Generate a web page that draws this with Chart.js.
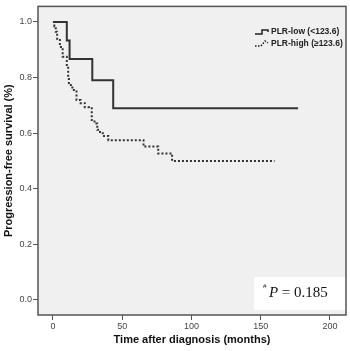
<!DOCTYPE html>
<html>
<head>
<meta charset="utf-8">
<script src="https://cdn.jsdelivr.net/npm/chart.js@4/dist/chart.umd.min.js"></script>
<style>
  body { margin: 0; background: #fff; }
  #wrap { width: 350px; height: 351px; }
</style>
</head>
<body>
<div id="wrap"><canvas id="myChart" width="350" height="351"></canvas></div>
<script>
// PLR-low group (KM steps: time in months, survival after event)
let lowTimes = [0, 10, 12, 28.4, 43.5, 177];
let lowSurv  = [1.0, 0.933, 0.867, 0.79, 0.69, 0.69];

// PLR-high group
let highTimes = [0, 1, 2, 3, 5, 7, 10, 11, 11.5, 14, 17, 20, 23, 26, 28, 30, 32, 34, 36, 40, 65.4, 76, 86, 160];
let highSurv  = [1.0, 0.985, 0.965, 0.935, 0.91, 0.875, 0.845, 0.803, 0.773, 0.755, 0.719, 0.708, 0.693, 0.69, 0.647, 0.635, 0.612, 0.6, 0.59, 0.575, 0.552, 0.527, 0.5, 0.5];

let xTicks = [0, 50, 100, 150, 200];
let yTicks = [0, 0.2, 0.4, 0.6, 0.8, 1.0];

let legendLabels = ["PLR-low (<123.6)", "PLR-high (\u2265123.6)"];
let pText = "P = 0.185";

function toPoints(ts, ss) {
  return ts.map(function(t, i){ return {x: t, y: ss[i]}; });
}

// 배경, 범례, P값 박스, 테두리
const kmPlugin = {
  id: 'kmPlugin',
  beforeDatasetsDraw: function(chart) {
    const a = chart.chartArea, ctx = chart.ctx;
    ctx.save();
    ctx.fillStyle = '#f0f0f0';
    ctx.fillRect(a.left, a.top, a.right - a.left, a.bottom - a.top);
    ctx.restore();
  },
  afterDraw: function(chart) {
    const a = chart.ctx ? chart.chartArea : null, ctx = chart.ctx;
    ctx.save();
    // P value box
    ctx.fillStyle = '#ffffff';
    ctx.fillRect(254, 277, a.right - 254, 33);
    ctx.fillStyle = '#111';
    ctx.font = '7px "Liberation Serif", serif';
    ctx.textBaseline = 'alphabetic';
    ctx.fillText('#', 263, 288);
    ctx.font = 'italic 15px "Liberation Serif", serif';
    ctx.fillText('P', 269, 297);
    ctx.font = '15px "Liberation Serif", serif';
    ctx.fillText(pText.slice(1), 278, 297);

    // legend
    ctx.strokeStyle = '#222';
    ctx.lineWidth = 1.5;
    ctx.setLineDash([]);
    ctx.beginPath();
    ctx.moveTo(255, 34); ctx.lineTo(262, 34); ctx.lineTo(262, 30); ctx.lineTo(268, 30); ctx.lineTo(268, 32);
    ctx.stroke();
    ctx.setLineDash([1.5, 1.5]);
    ctx.beginPath();
    ctx.moveTo(255, 46); ctx.lineTo(261, 46); ctx.lineTo(265, 41); ctx.lineTo(268, 43);
    ctx.stroke();
    ctx.setLineDash([]);
    ctx.fillStyle = '#222';
    ctx.font = 'bold 8.5px Arial, "Liberation Sans", sans-serif';
    ctx.fillText(legendLabels[0], 271, 34);
    ctx.fillText(legendLabels[1], 271, 46);

    // plot frame
    ctx.strokeStyle = '#555';
    ctx.lineWidth = 1.5;
    ctx.strokeRect(a.left, a.top, a.right - a.left, a.bottom - a.top);
    ctx.restore();
  }
};

var ctx = document.getElementById('myChart').getContext('2d');
var myChart = new Chart(ctx, {
  type: 'line',
  data: {
    datasets: [{
      label: legendLabels[0],
      data: toPoints(lowTimes, lowSurv),
      borderColor: '#333',
      borderWidth: 2,
      stepped: true,
      pointRadius: 0,
      fill: false
    }, {
      label: legendLabels[1],
      data: toPoints(highTimes, highSurv),
      borderColor: '#333',
      borderWidth: 2,
      borderDash: [2, 2],
      stepped: true,
      pointRadius: 0,
      fill: false
    }]
  },
  options: {
    responsive: false,
    animation: false,
    layout: { padding: { top: 5, right: 4, left: 0, bottom: 0 } },
    plugins: { legend: { display: false }, tooltip: { enabled: false } },
    scales: {
      x: {
        type: 'linear',
        min: -10.8,
        max: 211.6,
        afterBuildTicks: function(scale) { scale.ticks = xTicks.map(function(v){ return {value: v}; }); },
        afterFit: function(scale) { scale.height = 36; },
        grid: { drawOnChartArea: false, drawTicks: true, tickLength: 5, color: '#555' },
        border: { display: false },
        ticks: { padding: 1, color: '#444', font: { size: 9, family: 'Arial' }, maxRotation: 0,
                 callback: function(v){ return v; } },
        title: { display: true, text: 'Time after diagnosis (months)', color: '#111',
                 font: { size: 11, weight: 'bold', family: 'Arial' }, padding: { top: 0, bottom: 4 } }
      },
      y: {
        type: 'linear',
        min: -0.054,
        max: 1.056,
        afterBuildTicks: function(scale) { scale.ticks = yTicks.map(function(v){ return {value: v}; }); },
        afterFit: function(scale) { scale.width = 38; },
        grid: { drawOnChartArea: false, drawTicks: true, tickLength: 5, color: '#555' },
        border: { display: false },
        ticks: { padding: 1, color: '#444', font: { size: 9, family: 'Arial' },
                 callback: function(v){ return Number(v).toFixed(1); } },
        title: { display: true, text: 'Progression-free survival (%)', color: '#111',
                 font: { size: 11, weight: 'bold', family: 'Arial' }, padding: { top: 2, bottom: 0 } }
      }
    }
  },
  plugins: [kmPlugin]
});
</script>
</body>
</html>
